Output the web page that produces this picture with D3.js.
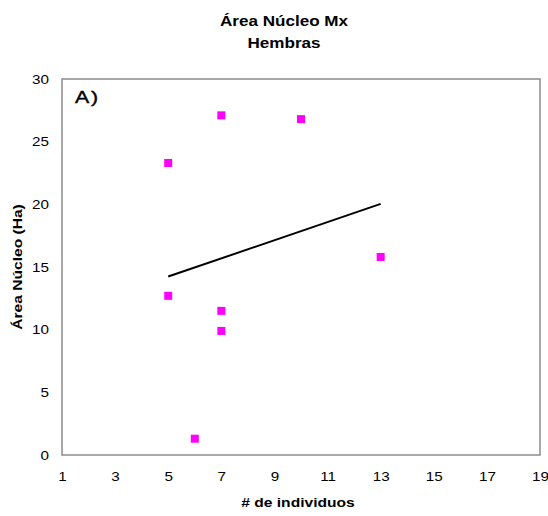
<!DOCTYPE html>
<html>
<head>
<meta charset="utf-8">
<script src="https://cdn.jsdelivr.net/npm/d3@7"></script>
<style>
  body { margin: 0; background: #fff; }
  text { font-family: "Liberation Sans", Arial, sans-serif; }
</style>
</head>
<body>
<svg width="548" height="516"></svg>
<script>
// data
const individuos = [5, 7, 10, 5, 7, 7, 6, 13];
const areaNucleo = [23.3, 27.1, 26.8, 12.7, 11.5, 9.9, 1.3, 15.8];
const xTicks = [1, 3, 5, 7, 9, 11, 13, 15, 17, 19];
const yTicks = [0, 5, 10, 15, 20, 25, 30];

const svg = d3.select("svg");
const pLeft = 62, pRight = 540, pTop = 79, pBottom = 455;
const sx = 1.22; // text in the original is drawn horizontally stretched

const x = d3.scaleLinear().domain([1, 19]).range([pLeft, pRight]);
const y = d3.scaleLinear().domain([0, 30]).range([pBottom, pTop]);

// plot frame
svg.append("rect")
  .attr("x", pLeft).attr("y", pTop)
  .attr("width", pRight - pLeft).attr("height", pBottom - pTop)
  .attr("fill", "none")
  .attr("stroke", "#8c8c8c")
  .attr("stroke-width", 1.5);

// axes: labels only, no tick marks
const xAxis = svg.append("g")
  .attr("transform", `translate(0,${pBottom})`)
  .call(d3.axisBottom(x).tickValues(xTicks).tickSize(0).tickPadding(17));
xAxis.select(".domain").remove();
xAxis.selectAll("text")
  .style("font-size", "12.5px").attr("fill", "#000")
  .attr("transform", `scale(${sx},1)`);

const yAxis = svg.append("g")
  .attr("transform", `translate(${pLeft},0)`)
  .call(d3.axisLeft(y).tickValues(yTicks).tickSize(0).tickPadding(13 / sx));
yAxis.select(".domain").remove();
yAxis.selectAll("text")
  .style("font-size", "12.5px").attr("fill", "#000")
  .attr("transform", `scale(${sx},1)`);

// trend line (least squares)
const pts = individuos.map((d, i) => [d, areaNucleo[i]]);
const mx = d3.mean(individuos), my = d3.mean(areaNucleo);
const slope = d3.sum(pts, p => (p[0] - mx) * (p[1] - my)) / d3.sum(pts, p => (p[0] - mx) ** 2);
const icpt = my - slope * mx;
const xr = d3.extent(individuos);
svg.append("path")
  .datum(xr.map(v => [v, icpt + slope * v]))
  .attr("fill", "none")
  .attr("stroke", "#000")
  .attr("stroke-width", 2)
  .attr("d", d3.line().x(d => x(d[0])).y(d => y(d[1])));

// points
svg.selectAll(".pt")
  .data(pts)
  .join("rect")
  .attr("class", "pt")
  .attr("x", d => x(d[0]) - 4)
  .attr("y", d => y(d[1]) - 4)
  .attr("width", 8).attr("height", 8)
  .attr("fill", "#ff00ff");

// titles
function label(tx, ty, txt, size, rot, k) {
  return svg.append("text")
    .attr("transform", `translate(${tx},${ty})${rot ? " rotate(-90)" : ""} scale(${k || 1.3},1)`)
    .attr("text-anchor", "middle")
    .style("font-size", size + "px").style("font-weight", "bold")
    .text(txt);
}
label(284, 26, "Área Núcleo Mx", 14, false, 1.22);
label(284, 48, "Hembras", 14, false, 1.22);
label(298, 507, "# de individuos", 12);
label(22, (pTop + pBottom) / 2, "Área Núcleo (Ha)", 12, true);

svg.append("text")
  .attr("transform", "translate(75,103) scale(1.25,1)")
  .style("font-size", "17px")
  .style("letter-spacing", "1.5px")
  .attr("stroke", "#000")
  .attr("stroke-width", 0.4)
  .text("A)");
</script>
</body>
</html>
